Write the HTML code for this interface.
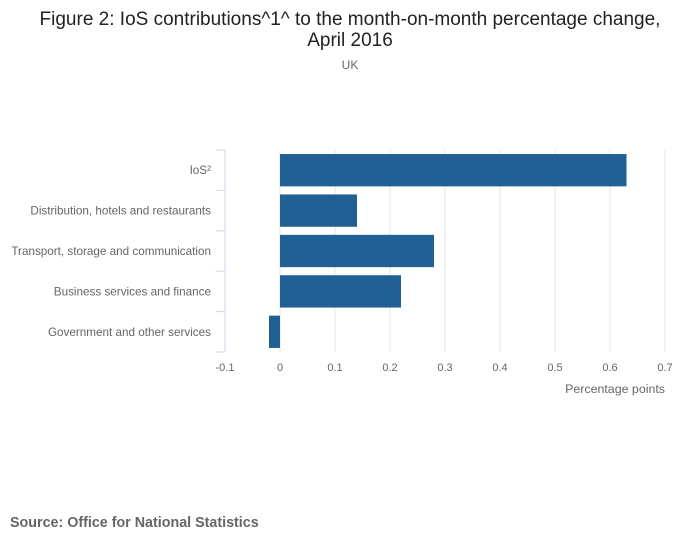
<!DOCTYPE html>
<html><head><meta charset="utf-8"><style>
body{margin:0;background:#fff;font-family:"Liberation Sans",sans-serif;}
svg{display:block}
</style></head><body>
<svg id="chart" width="700" height="549">
<text x="350" y="25" text-anchor="middle" font-size="19" fill="#222">Figure 2: IoS contributions^1^ to the month-on-month percentage change,</text>
<text x="350" y="46" text-anchor="middle" font-size="19" fill="#222">April 2016</text>
<text x="350" y="69" text-anchor="middle" font-size="12" fill="#666">UK</text>
<g id="grid"></g><g id="bars"></g><g id="axes"></g>
<text x="665" y="393" text-anchor="end" font-size="12.4" fill="#666">Percentage points</text>
<text x="10" y="527" font-size="14.3" font-weight="bold" fill="#666">Source: Office for National Statistics</text>
</svg>
<script>
const categories=["IoS²","Distribution, hotels and restaurants","Transport, storage and communication","Business services and finance","Government and other services"];
const values=[0.63,0.14,0.28,0.22,-0.02];
const xTicks=[-0.1,0,0.1,0.2,0.3,0.4,0.5,0.6,0.7];
const xTickLabels=["-0.1","0","0.1","0.2","0.3","0.4","0.5","0.6","0.7"];
const NS="http://www.w3.org/2000/svg";
const x0=225,x1=665,y0=150,y1=352,xmin=-0.1,xmax=0.7;
const x=v=>x0+(v-xmin)/(xmax-xmin)*(x1-x0);
const band=(y1-y0)/categories.length;
function mk(t,a,p){const e=document.createElementNS(NS,t);for(const k in a)e.setAttribute(k,a[k]);p.appendChild(e);return e;}
const g=document.getElementById('grid'),b=document.getElementById('bars'),ax=document.getElementById('axes');
xTicks.forEach((t,i)=>{
 if(i>0){const l=mk('line',{x1:x(t),x2:x(t),y1:y0,y2:y1,stroke:'#e6e6e6'},g);
 
 }
 const tx=mk('text',{x:x(t),y:371,'text-anchor':'middle','font-size':11,fill:'#666'},ax);
 tx.textContent=xTickLabels[i];
 
 
});
const al=mk('line',{x1:x0,x2:x0,y1:y0,y2:y1,stroke:'#ccd6eb'},ax);


for(let i=0;i<=categories.length;i++){
 const yy=y0+i*band;
 const tk=mk('line',{x1:x0-9,x2:x0,y1:yy,y2:yy,stroke:'#ccd6eb'},ax);
 
 
}
categories.forEach((c,i)=>{
 const cy=y0+(i+0.5)*band;
 const tx=mk('text',{x:211,y:cy+4,'text-anchor':'end','font-size':11.7,fill:'#666'},ax);
 tx.textContent=c;
 
 
 const v=values[i];
 const r=mk('rect',{x:Math.min(x(0),x(v)),y:cy-band*0.4,width:Math.abs(x(v)-x(0)),height:band*0.8,fill:'#206095'},b);
 
 
});
</script>
</body></html>
